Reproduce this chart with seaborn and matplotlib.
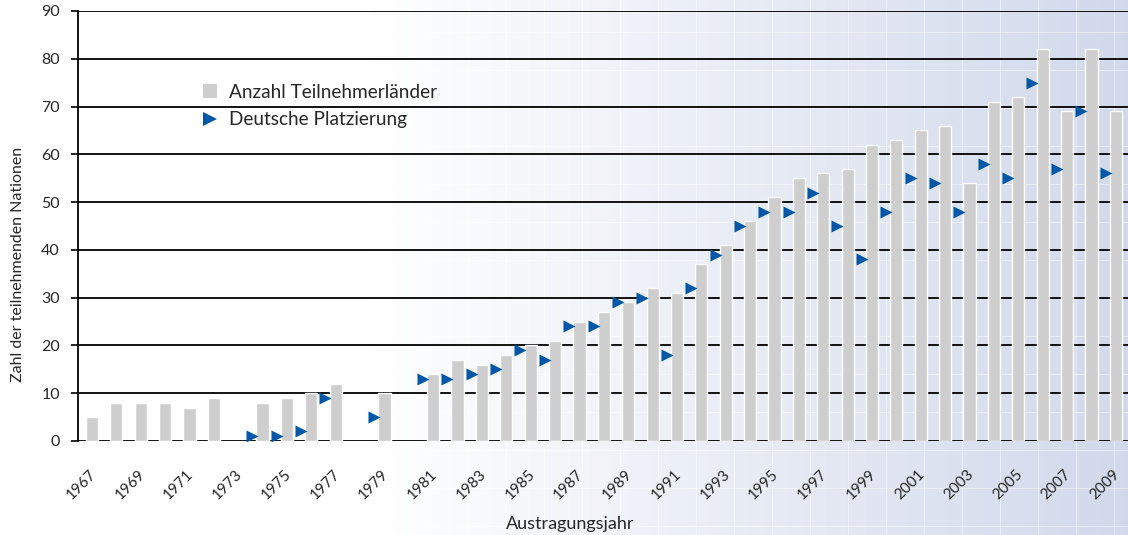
import numpy as np
import pandas as pd
import matplotlib.pyplot as plt
import matplotlib.transforms as mtransforms
import seaborn as sns
from matplotlib.lines import Line2D

sns.set_theme(style="white")
plt.rcParams['font.family'] = ['Lato', 'DejaVu Sans']

# Daten
jahre = list(range(1967, 2010))
teilnehmer = [5, 8, 8, 8, 7, 9, np.nan, 8, 9, 10, 12, np.nan, 10, np.nan,
              14, 17, 16, 18, 20, 21, 25, 27, 29, 32, 31, 37, 41, 46, 51,
              55, 56, 57, 62, 63, 65, 66, 54, 71, 72, 82, 69, 82, 69]
platzierung = [np.nan] * 7 + [1, 1, 2, 9, np.nan, 5, np.nan,
               13, 13, 14, 15, 19, 17, 24, 24, 29, 30, 18, 32, 39, 45, 48,
               48, 52, 45, 38, 48, 55, 54, 48, 58, 55, 75, 57, 69, 56]
yticks = list(range(0, 100, 10))
xtick_jahre = jahre[::2]

BAR_COLOR = '#cdcecd'
MARKER_COLOR = '#0057a8'

df = pd.DataFrame({'jahr': jahre, 'teilnehmer': teilnehmer, 'platz': platzierung})
df['pos'] = df['jahr'] - 0.42

fig = plt.figure(figsize=(11.28, 5.35), dpi=100)

# Hintergrund: Verlauf von weiss nach hellblau mit feinem Raster
W, H = 1128, 535
t = np.linspace(0, 1, W)
s = np.clip((t - 0.33) / 0.67, 0, 1)
end = np.array([0.82, 0.85, 0.92])
row = (1 - s)[:, None] * np.ones(3) + s[:, None] * end
img = np.repeat(row[None, :, :], H, axis=0)
xs = np.arange(W)
ys = np.arange(H)
vmask = ((xs - 772) % 38) == 0
hmask = ((ys - 32) % 38) == 0
img[:, vmask, :] = img[:, vmask, :] * 0.55 + 0.45
img[hmask, :, :] = img[hmask, :, :] * 0.55 + 0.45
bg = fig.add_axes([0, 0, 1, 1], zorder=-10)
bg.imshow(img, aspect='auto', extent=(0, 1, 0, 1))
bg.axis('off')

ax = fig.add_axes([78 / W, 94 / H, 1 - 78 / W, (441 - 11) / H])
ax.set_facecolor('none')

sns.barplot(data=df.dropna(subset=['teilnehmer']), x='jahr', y='teilnehmer',
            native_scale=True, width=0.5, color=BAR_COLOR, saturation=1,
            ax=ax, zorder=3)
sns.scatterplot(data=df.dropna(subset=['platz']), x='pos', y='platz',
                marker='>', s=75, color=MARKER_COLOR, linewidth=0,
                ax=ax, zorder=4)

ax.set_xlim(1966.43, 2009.5)
ax.set_ylim(0, 90)
ax.set_yticks(yticks)
ax.yaxis.grid(True, color='black', linewidth=1.3)
ax.set_axisbelow(True)
ax.tick_params(axis='y', length=5, width=1.2, color='black', pad=8,
               labelsize=11.5, direction='out', left=True)
ax.set_xticks(xtick_jahre)
ax.set_xticklabels([str(j) for j in xtick_jahre], rotation=45, ha='right',
                   rotation_mode='anchor')
ax.tick_params(axis='x', length=0, pad=19, labelsize=11)
shift = mtransforms.ScaledTranslation(-3 / 100, 0, fig.dpi_scale_trans)
for lbl in ax.get_xticklabels():
    lbl.set_transform(lbl.get_transform() + shift)

for side in ['top', 'right', 'bottom']:
    ax.spines[side].set_visible(False)
ax.spines['left'].set_color('black')
ax.spines['left'].set_linewidth(1.3)

ax.set_xlabel('Austragungsjahr', fontsize=13)
ax.xaxis.set_label_coords((570 - 78) / 1050, -0.175)
ax.set_ylabel('Zahl der teilnehmenden Nationen', fontsize=11.5)
ax.yaxis.set_label_coords(-0.05, 0.41)

handles = [
    Line2D([], [], marker='s', linestyle='none', markersize=9.5,
           markerfacecolor=BAR_COLOR, markeredgewidth=0),
    Line2D([], [], marker='>', linestyle='none', markersize=9.5,
           markerfacecolor=MARKER_COLOR, markeredgewidth=0),
]
ax.legend(handles, ['Anzahl Teilnehmerländer', 'Deutsche Platzierung'],
          loc='upper left', bbox_to_anchor=(200 / W, 1 - 84 / H),
          bbox_transform=fig.transFigure, frameon=False, fontsize=13.7,
          handlelength=1.0, handletextpad=0.5, labelspacing=0.55,
          borderpad=0, borderaxespad=0)

fig.savefig('out.png', dpi=100)
